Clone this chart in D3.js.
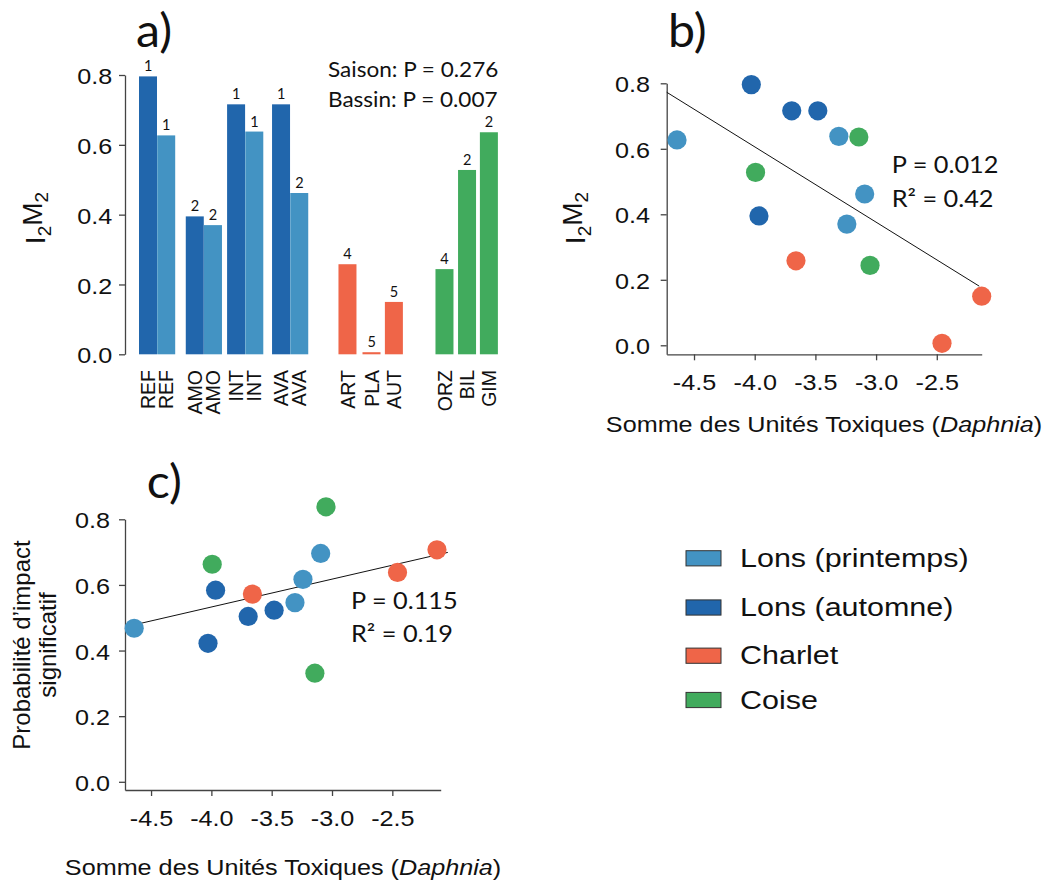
<!DOCTYPE html>
<html><head><meta charset="utf-8">
<script src="https://cdn.jsdelivr.net/npm/d3@7"></script>
<style>body{margin:0;background:#fff} svg{display:block}</style>
</head><body>
<svg id="chart" width="1043" height="881"></svg>
<script>
// ---------- data ----------
const sites   = ["REF","REF","AMO","AMO","INT","INT","AVA","AVA","ART","PLA","AUT","ORZ","BIL","GIM"];
const groups  = ["aut","pri","aut","pri","aut","pri","aut","pri","cha","cha","cha","coi","coi","coi"];
const i2m2    = [0.796,0.627,0.395,0.370,0.716,0.638,0.716,0.462,0.258,0.006,0.150,0.244,0.528,0.636];
const ranks   = ["1","1","2","2","1","1","1","2","4","5","5","4","2","2"];
const sumTU   = [-4.028,-4.64,-3.965,-3.241,-3.695,-3.307,-3.48,-3.094,-3.66,-2.457,-2.13,-3.05,-3.993,-3.142];
const probImpact = [0.422,0.468,0.584,0.617,0.504,0.546,0.523,0.696,0.572,0.638,0.707,0.838,0.663,0.331];
const yTicks  = [0,0.2,0.4,0.6,0.8];
const xTicks  = [-4.5,-4.0,-3.5,-3.0,-2.5];
const fitB    = {intercept:-0.314, slope:-0.230, from:-4.725, to:-2.15};
const fitC    = {intercept:0.8723, slope:0.0849, from:-4.64, to:-2.04};
const statsA  = ["Saison: P = 0.276","Bassin: P = 0.007"];
const statsB  = ["P = 0.012","R\u00B2 = 0.42"];
const statsC  = ["P = 0.115","R\u00B2 = 0.19"];
const legendKeys   = ["pri","aut","cha","coi"];
const legendLabels = ["Lons (printemps)","Lons (automne)","Charlet","Coise"];
const colors = {pri:"#4393c3", aut:"#2166ac", cha:"#ef6548", coi:"#41ab5d"};

// ---------- layout constants ----------
const barSlot = [0,1,2.57,3.57,4.84,5.84,7.31,8.31,10.96,12.28,13.51,16.29,17.53,18.73];
const SX = 1.12;
const SANS = "'Liberation Sans', Arial, sans-serif";
const LATO = "Lato, sans-serif";
const AXC = "#444";

const svg = d3.select("#chart");

function htext(g, x, y, str, size, family, anchor, sx) {
  return g.append("text")
    .attr("transform", `translate(${x},${y}) scale(${sx||SX},1)`)
    .attr("text-anchor", anchor || "start")
    .style("font-family", family).style("font-size", size + "px")
    .attr("fill", "#111").text(str);
}
function styleAxis(g) {
  g.select(".domain").attr("stroke", AXC).attr("stroke-width", 1.3);
  g.selectAll(".tick line").attr("stroke", AXC).attr("stroke-width", 1.3);
  g.selectAll(".tick text").style("font-family", SANS).style("font-size", "22.5px").attr("fill", "#111");
}
function yAxis(yScale, x0, padRight) {
  const g = svg.append("g").attr("transform", `translate(${x0},0)`)
    .call(d3.axisLeft(yScale).tickValues(yTicks).tickFormat(d => d.toFixed(1)).tickSize(6).tickSizeOuter(0));
  styleAxis(g);
  g.selectAll(".tick text").attr("x", -padRight / SX).attr("dy", "0.38em").attr("transform", `scale(${SX},1)`);
  return g;
}
function xAxis(xScale, y0) {
  const g = svg.append("g").attr("transform", `translate(0,${y0})`)
    .call(d3.axisBottom(xScale).tickValues(xTicks).tickFormat(d => d.toFixed(1)).tickSize(6).tickSizeOuter(0).tickPadding(14));
  styleAxis(g);
  g.selectAll(".tick text").attr("transform", `scale(${SX},1)`);
  return g;
}
function i2m2Label(x, y) {
  const t = svg.append("text")
    .attr("transform", `translate(${x},${y}) rotate(-90)`)
    .attr("text-anchor", "middle")
    .style("font-family", SANS).style("font-size", "28px").attr("fill", "#111");
  t.append("tspan").text("I");
  t.append("tspan").attr("dy", "0.3em").style("font-size", "19px").text("2");
  t.append("tspan").attr("dy", "-0.3em").text("M");
  t.append("tspan").attr("dy", "0.3em").style("font-size", "19px").text("2");
}
function xTitle(cx, y) {
  const t = svg.append("text")
    .attr("transform", `translate(${cx},${y}) scale(${SX},1)`)
    .attr("text-anchor", "middle")
    .style("font-family", SANS).style("font-size", "22.5px").attr("fill", "#111");
  t.append("tspan").text("Somme des Unités Toxiques (");
  t.append("tspan").style("font-style", "italic").text("Daphnia");
  t.append("tspan").text(")");
}

// ---------- panel a ----------
const yA = d3.scaleLinear().domain([0, 0.8]).range([354.3, 75]);
const xA = d3.scaleLinear().domain([0, 1]).range([139, 157.2]);
const bw = xA(1) - xA(0);
yAxis(yA, 125, 12.7);
const gA = svg.append("g");
gA.selectAll("rect").data(i2m2).join("rect")
  .attr("x", (d, i) => xA(barSlot[i]))
  .attr("y", d => yA(d))
  .attr("width", bw - 0.2)
  .attr("height", d => yA(0) - yA(d))
  .attr("fill", (d, i) => colors[groups[i]]);
gA.selectAll("text.rank").data(ranks).join("text").attr("class", "rank")
  .attr("x", (d, i) => xA(barSlot[i]) + bw / 2)
  .attr("y", (d, i) => yA(i2m2[i]) - 5)
  .attr("text-anchor", "middle")
  .style("font-family", LATO).style("font-size", "14.5px").attr("fill", "#111")
  .text(d => d);
gA.selectAll("text.site").data(sites).join("text").attr("class", "site")
  .attr("transform", (d, i) => `translate(${xA(barSlot[i]) + bw / 2},370) rotate(-90)`)
  .attr("text-anchor", "end").attr("dy", "0.36em")
  .style("font-family", SANS).style("font-size", "19.5px").attr("fill", "#111")
  .text(d => d);
htext(svg, 136, 47, "a)", 46, LATO, "start", 1.05);
statsA.forEach((s, i) => htext(svg, 328, 77 + i * 29.5, s, 20.5, LATO, "start", 1.1));
i2m2Label(45, 218);

// ---------- panel b ----------
const xB = d3.scaleLinear().domain([-4.725, -2.13]).range([666.7, 981.7]);
const yB = d3.scaleLinear().domain([-0.0275, 0.8]).range([354.3, 83.3]);
yAxis(yB, 666.7, 16.7);
xAxis(xB, 354.3);
svg.append("line")
  .attr("x1", xB(fitB.from)).attr("y1", yB(fitB.intercept + fitB.slope * fitB.from))
  .attr("x2", xB(fitB.to)).attr("y2", yB(fitB.intercept + fitB.slope * fitB.to))
  .attr("stroke", "#111").attr("stroke-width", 1);
svg.append("g").selectAll("circle").data(i2m2).join("circle")
  .attr("cx", (d, i) => xB(sumTU[i])).attr("cy", d => yB(d)).attr("r", 9.6)
  .attr("fill", (d, i) => colors[groups[i]]);
htext(svg, 668, 46.7, "b)", 46, LATO, "start", 1.05);
statsB.forEach((s, i) => htext(svg, 891.7, 173.3 + i * 33.4, s, 23, LATO, "start", 1.1));
i2m2Label(585, 218);
xTitle(824, 432);

// ---------- panel c ----------
const xC = d3.scaleLinear().domain([-4.716, -2.099]).range([125, 440.7]);
const yC = d3.scaleLinear().domain([-0.025, 0.8]).range([790, 519.3]);
yAxis(yC, 125, 15);
xAxis(xC, 790);
svg.append("line")
  .attr("x1", xC(fitC.from)).attr("y1", yC(fitC.intercept + fitC.slope * fitC.from))
  .attr("x2", xC(fitC.to)).attr("y2", yC(fitC.intercept + fitC.slope * fitC.to))
  .attr("stroke", "#111").attr("stroke-width", 1);
svg.append("g").selectAll("circle").data(probImpact).join("circle")
  .attr("cx", (d, i) => xC(sumTU[i])).attr("cy", d => yC(d)).attr("r", 9.6)
  .attr("fill", (d, i) => colors[groups[i]]);
htext(svg, 146.7, 498.3, "c)", 46, LATO, "start", 1.05);
statsC.forEach((s, i) => htext(svg, 351, 609.3 + i * 33, s, 23, LATO, "start", 1.1));
const yl = svg.append("text")
  .attr("transform", "translate(0,645) rotate(-90)")
  .attr("text-anchor", "middle")
  .style("font-family", SANS).style("font-size", "24px").attr("fill", "#111");
yl.append("tspan").attr("x", 0).attr("y", 30).text("Probabilité d\u2019impact");
yl.append("tspan").attr("x", 0).attr("y", 55.5).text("significatif");
xTitle(283, 875);

// ---------- legend ----------
const legendY = [558.3, 607.5, 655.7, 700];
const lg = svg.append("g");
legendKeys.forEach((k, i) => {
  lg.append("rect").attr("x", 686).attr("y", legendY[i] - 7.6).attr("width", 35).attr("height", 15.2)
    .attr("fill", colors[k]).attr("stroke", "#333").attr("stroke-width", 1);
  htext(lg, 740, legendY[i] + 8.5, legendLabels[i], 26.5, SANS, "start", 1.15);
});
</script>
</body></html>
